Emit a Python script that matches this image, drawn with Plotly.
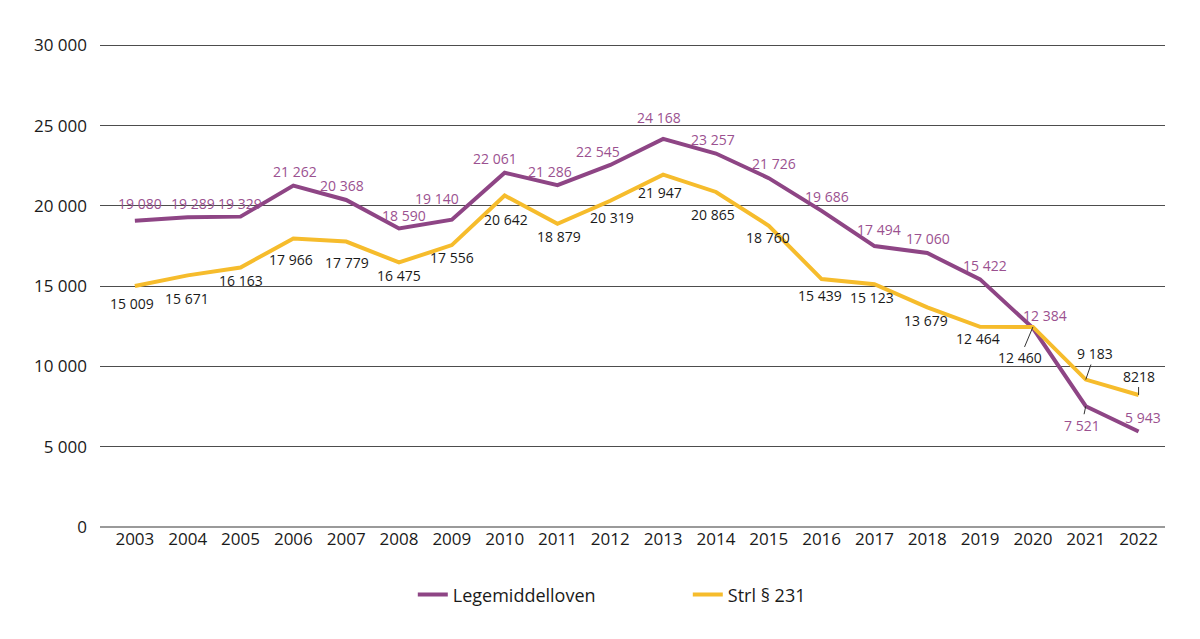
import plotly.graph_objects as go

# Data
years = [str(y) for y in range(2003, 2023)]
legemiddelloven = [19080, 19289, 19329, 21262, 20368, 18590, 19140, 22061, 21286, 22545,
                   24168, 23257, 21726, 19686, 17494, 17060, 15422, 12384, 7521, 5943]
strl_231 = [15009, 15671, 16163, 17966, 17779, 16475, 17556, 20642, 18879, 20319,
            21947, 20865, 18760, 15439, 15123, 13679, 12464, 12460, 9183, 8218]

# label offsets in px (dx, dy), dy positive = down
off_leg = [(5, -17), (5, -14), (-1, -13), (2, -14), (-4, -14), (5, -13), (-15, -21), (-10, -14),
           (-7, -14), (-12, -13), (-4, -21), (-3, -14), (5, -15), (5, -14), (5, -17), (1, -15),
           (5, -14), (12, -13), (-4, 19), (4, -14)]
off_strl = [(-3, 17), (-1, 23), (0, 13), (-2, 21), (1, 21), (0, 13), (0, 12), (1, 24),
            (2, 13), (2, 17), (-3, 18), (-3, 23), (-1, 12), (-2, 16), (-2, 13), (-1, 13),
            (-2, 12), (-13, 31), (9, -26), (0, -19)]
leader_leg = {18}
leader_strl = {17, 18, 19}

PURPLE = "#8e4585"
PURPLE_TXT = "#9b5190"
YELLOW = "#f6bc2c"
FONT = "Open Sans"


def fmt(v):
    if v == 8218:
        return "8218"
    return f"{v:,}".replace(",", " ")


fig = go.Figure()
fig.add_trace(go.Scatter(x=years, y=legemiddelloven, mode="lines", name="Legemiddelloven",
                         line=dict(color=PURPLE, width=4)))
fig.add_trace(go.Scatter(x=years, y=strl_231, mode="lines", name="Strl § 231",
                         line=dict(color=YELLOW, width=4)))

annots = []
for vals, offs, leaders, col in [(legemiddelloven, off_leg, leader_leg, PURPLE_TXT),
                                 (strl_231, off_strl, leader_strl, "#1a1a1a")]:
    for i, v in enumerate(vals):
        dx, dy = offs[i]
        a = dict(x=i, y=v, text=fmt(v), font=dict(family=FONT, size=14, color=col))
        if i in leaders:
            a.update(showarrow=True, ax=dx, ay=dy, arrowhead=0, arrowwidth=1,
                     arrowcolor="#333333", standoff=0)
        else:
            a.update(showarrow=False, xshift=dx, yshift=-dy)
        annots.append(a)

fig.update_layout(
    width=1200, height=639,
    paper_bgcolor="white", plot_bgcolor="white",
    margin=dict(l=100, r=35, t=44, b=112),
    separators=", ",
    font=dict(family=FONT, size=17, color="#1a1a1a"),
    annotations=annots,
    showlegend=True,
    legend=dict(orientation="h", xref="container", x=0.344, xanchor="left",
                yref="container", y=0.069, yanchor="middle",
                font=dict(family=FONT, size=18), entrywidth=230),
    xaxis=dict(type="category", range=[-0.66, 19.5], showgrid=False, showline=False,
               ticks="", tickfont=dict(size=17)),
    yaxis=dict(range=[0, 30080], dtick=5000, tickformat=",d", showgrid=True,
               gridcolor="#4d4d4d", gridwidth=1, zeroline=True, zerolinecolor="#9a9a9a",
               zerolinewidth=2, ticks="", ticklabelstandoff=12, tickfont=dict(size=17)),
)

fig.write_html("out.html", config={"displayModeBar": False},
               post_script="document.body.style.margin='0';")
